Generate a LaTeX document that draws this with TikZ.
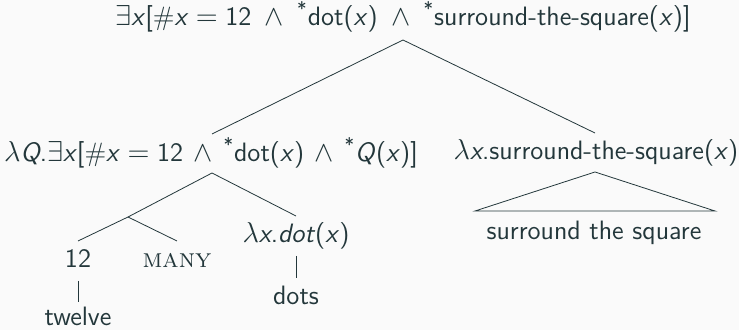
\documentclass[tikz,border=0pt]{standalone}
\renewcommand{\familydefault}{\sfdefault}
\definecolor{fg}{HTML}{23373B}
\definecolor{bg}{HTML}{FAFAFA}
\newcommand{\vx}{\textit{x}}
\newcommand{\st}{\textsuperscript{*}}
\newcommand{\an}{\enspace$\wedge$\enspace}
\newcommand{\anL}{\hspace{0.4em}$\wedge$\hspace{0.4em}}
\newcommand{\eq}{\hspace{0.28em}$=$\hspace{0.28em}}
\begin{document}
\begin{tikzpicture}[x=0.5pt,y=-0.5pt,
  lbl/.style={text=fg,inner sep=0pt,font=\sffamily\fontsize{13.3}{15}\selectfont},
  edge/.style={draw=fg,line width=0.4pt}]
\fill[bg] (0,0) rectangle (739,330);
\useasboundingbox (0,0) rectangle (739,330);
% nodes
\node[lbl] (root) at (403,17) {$\exists$\vx[\#\vx\eq 12\an\st dot(\vx)\an\st surround-the-square(\vx)]};
\node[lbl] (L) at (211,153) {$\lambda$\textit{Q}.$\exists$\vx[\#\vx\eq 12\anL\st dot(\vx)\anL\st\textit{Q}(\vx)]};
\node[lbl] (R) at (596,153) {$\lambda$\vx.surround-the-square(\vx)};
\node[lbl] (sq) at (594,233) {surround the square};
\node[lbl] (n12) at (78,259) {12};
\node[lbl] (many) at (177,260) {\textrm{\textsc{many}}};
\node[lbl] (dot) at (296,236) {$\lambda$\vx.\textit{dot}(\vx)};
\node[lbl] (twelve) at (78,316) {twelve};
\node[lbl] (dots) at (296,295) {dots};
% coordinates
\coordinate (rootb) at (403,40);
\coordinate (Lt) at (212,134);
\coordinate (Rt) at (595,133);
\coordinate (Lb) at (212,173);
\coordinate (mid) at (128,217);
\coordinate (dott) at (296,216);
\coordinate (n12t) at (78,241);
\coordinate (manyt) at (177,241);
\coordinate (Rb) at (595,172);
\coordinate (triL) at (475,211);
\coordinate (triR) at (715,211);
\coordinate (n12b) at (78,281);
\coordinate (twelvet) at (78,302);
\coordinate (dotb) at (296,256);
\coordinate (dotst) at (296,278);
% edges
\draw[edge] (Lt) -- (rootb) -- (Rt);
\draw[edge] (mid) -- (Lb) -- (dott);
\draw[edge] (n12t) -- (mid) -- (manyt);
\draw[edge] (Rb) -- (triL) -- (triR) -- cycle;
\draw[edge] (n12b) -- (twelvet);
\draw[edge] (dotb) -- (dotst);
\end{tikzpicture}
\end{document}
